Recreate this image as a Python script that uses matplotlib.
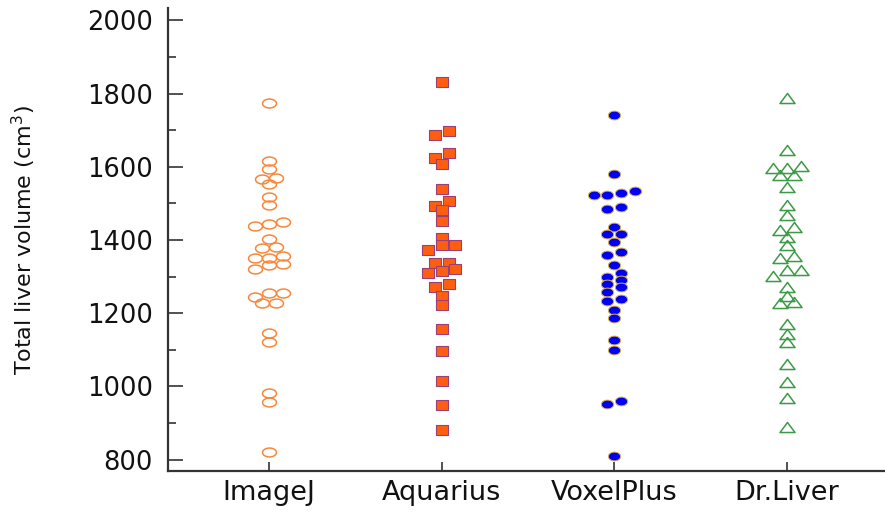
import numpy as np
import matplotlib
matplotlib.use("Agg")
import matplotlib.pyplot as plt
from matplotlib.path import Path
from matplotlib.ticker import MultipleLocator

# ---------------- data ----------------
categories = ["ImageJ", "Aquarius", "VoxelPlus", "Dr.Liver"]

imagej = [1775, 1617, 1593, 1570, 1567, 1554, 1518, 1496, 1450, 1445, 1439,
          1403, 1381, 1379, 1357, 1352, 1350, 1335, 1333, 1320, 1254, 1254,
          1243, 1229, 1229, 1147, 1121, 981, 958, 820]
aquarius = [1831, 1699, 1686, 1637, 1625, 1607, 1540, 1506, 1493, 1481, 1453,
            1405, 1385, 1385, 1373, 1338, 1338, 1321, 1315, 1309, 1281, 1271,
            1248, 1223, 1158, 1096, 1015, 950, 882]
voxelplus = [1741, 1579, 1535, 1529, 1524, 1524, 1489, 1485, 1435, 1416, 1416,
             1395, 1368, 1358, 1332, 1309, 1298, 1291, 1280, 1272, 1259, 1239,
             1232, 1210, 1186, 1127, 1099, 959, 952, 810]
drliver = [1789, 1645, 1601, 1596, 1596, 1578, 1578, 1546, 1496, 1468, 1436,
           1427, 1407, 1386, 1356, 1351, 1317, 1317, 1302, 1271, 1247, 1231,
           1229, 1170, 1142, 1120, 1061, 1011, 967, 890]

series = [imagej, aquarius, voxelplus, drliver]
yticks = [800, 1000, 1200, 1400, 1600, 1800, 2000]
ylabel = "Total liver volume (cm$^3$)"

# ---------------- marker shapes (horizontally stretched) ----------------
def ellipse(a):
    t = np.linspace(0, 2 * np.pi, 65)
    v = np.column_stack([np.cos(t), a * np.sin(t)])
    return Path(v, closed=True)

def rect(a):
    return Path([(-1, -a), (1, -a), (1, a), (-1, a), (-1, -a)], closed=True)

def tri(a):
    return Path([(0, a), (-1, -a), (1, -a), (0, a)], closed=True)

styles = [
    dict(marker=ellipse(0.64), ms=10.0, mfc="none", mec="#F7873A", mew=1.1),
    dict(marker=rect(0.73), ms=9.2, mfc="#FF5E0E", mec="#9C3F78", mew=0.8),
    dict(marker=ellipse(0.72), ms=8.8, mfc="#0000F5", mec="#D8B43C", mew=0.7),
    dict(marker=tri(0.67), ms=10.8, mfc="none", mec="#3C9A46", mew=1.1),
]

# ---------------- figure ----------------
W, H, DPI = 885, 514, 100
fig = plt.figure(figsize=(W / DPI, H / DPI), dpi=DPI)
ax = fig.add_axes([168 / W, 42.7 / H, 720 / W, 463 / H])
ax.set_xlim(0.415, 4.585)
ax.set_ylim(768, 2033)

# swarm layout: group close values into bins, spread each bin symmetrically
BIN = 16.0          # data units
SPACING_PX = 13.7   # horizontal distance between neighbours in a bin
def swarm_offsets(vals, spacing):
    order = np.argsort(vals)[::-1]
    offs = np.zeros(len(vals))
    i = 0
    while i < len(order):
        start = vals[order[i]]
        j = i
        while j + 1 < len(order) and start - vals[order[j + 1]] < BIN:
            j += 1
        idx = order[i:j + 1][::-1]  # ascending values -> left to right
        n = len(idx)
        for k, p in enumerate(idx):
            offs[p] = (k - (n - 1) / 2.0) * spacing
        i = j + 1
    return offs

px_per_x = ax.transData.transform((2, 0))[0] - ax.transData.transform((1, 0))[0]
for i, (vals, st) in enumerate(zip(series, styles)):
    vals = np.asarray(vals, float)
    offs = swarm_offsets(vals, SPACING_PX / px_per_x)
    ax.plot(i + 1 + offs, vals, linestyle="none", marker=st["marker"],
            markersize=st["ms"], markerfacecolor=st["mfc"],
            markeredgecolor=st["mec"], markeredgewidth=st["mew"], zorder=3)

# ---------------- axes styling ----------------
for s in ("top", "right"):
    ax.spines[s].set_visible(False)
for s in ("left", "bottom"):
    ax.spines[s].set_color("#333333")
    ax.spines[s].set_linewidth(1.6)

ax.set_yticks(yticks)
ax.yaxis.set_minor_locator(MultipleLocator(100))
ax.set_xticks(range(1, len(categories) + 1))
ax.set_xticklabels(categories)

ax.tick_params(axis="y", which="major", direction="in", length=11, width=1.2,
               color="#333333", labelsize=18.5, pad=11, labelcolor="#111111")
ax.tick_params(axis="y", which="minor", direction="in", length=6, width=1.2,
               color="#333333")
ax.tick_params(axis="x", which="major", direction="in", length=6.5, width=1.2,
               color="#333333", labelsize=19.5, pad=6, labelcolor="#111111")

ax.set_ylabel(ylabel, fontsize=16, color="#111111")
ax.yaxis.set_label_coords(-0.18, 0.5)

fig.savefig("out.png", dpi=DPI)
